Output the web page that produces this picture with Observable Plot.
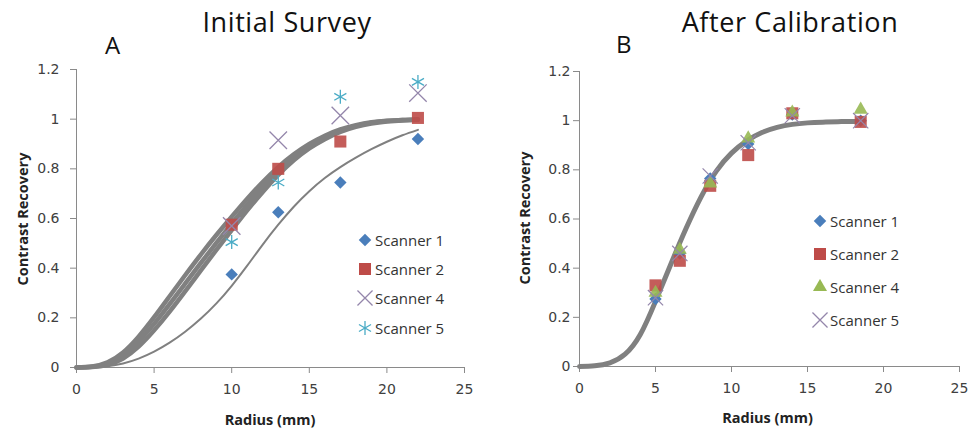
<!DOCTYPE html>
<html><head><meta charset="utf-8">
<script src="https://cdn.jsdelivr.net/npm/d3@7"></script>
<script src="https://cdn.jsdelivr.net/npm/@observablehq/plot@0.6"></script>
<style>
body{margin:0;background:#fff;}
#wrap{position:relative;width:979px;height:429px;overflow:hidden;background:#fff;font-family:"Open Sans",Lato,sans-serif;}
.abs{position:absolute;white-space:nowrap;line-height:1;}
.title{font-size:27px;letter-spacing:0.6px;color:#111;transform:translateX(-50%);}
.letter{font-size:24px;color:#111;}
.ylab{font-size:14.5px;font-weight:bold;color:#222;transform:translate(-50%,-50%) rotate(-90deg);}
.xlab{font-size:14.5px;font-weight:bold;color:#222;transform:translate(-50%,-50%);}
.leg{font-size:15px;color:#333;display:flex;align-items:center;transform:translateY(-50%);}
.leg svg{margin-right:2px;}
.panel{position:absolute;top:0;}
</style></head><body><div id="wrap"></div>
<script>
// ---------- data ----------
const seriesNames = ["Scanner 1", "Scanner 2", "Scanner 4", "Scanner 5"];
const xTicks = [0, 5, 10, 15, 20, 25];
const yTicks = [0, 0.2, 0.4, 0.6, 0.8, 1, 1.2];

// Panel A: Initial Survey
const radiusA = [10, 13, 17, 22];
const initialScanner1 = [0.375, 0.625, 0.745, 0.92];
const initialScanner2 = [0.575, 0.80, 0.91, 1.005];
const initialScanner4 = [0.57, 0.915, 1.015, 1.105];
const initialScanner5 = [0.505, 0.745, 1.09, 1.15];

const fitRadiusA = [0,1,2,3,4,5,6,7,8,9,10,11,12,13,14,15,16,17,18,19,20,21,22];
const fitInitial1 = [0,0.001,0.0055,0.0165,0.036,0.064,0.1,0.144,0.196,0.257,0.329,0.41,0.495,0.575,0.6475,0.71,0.763,0.807,0.845,0.879,0.909,0.935,0.957];
const fitInitial2 = [0,0.003,0.016,0.0485,0.104,0.1755,0.255,0.3375,0.42,0.5005,0.579,0.6555,0.727,0.791,0.846,0.891,0.9265,0.9535,0.973,0.9855,0.9925,0.9965,0.9985];
const fitInitial4 = [0,0.004,0.021,0.0605,0.124,0.2025,0.287,0.3715,0.454,0.5325,0.607,0.6795,0.747,0.807,0.858,0.9,0.9335,0.9585,0.976,0.9875,0.9935,0.997,0.999];
const fitInitial5 = [0,0.002,0.011,0.0365,0.084,0.1495,0.225,0.3065,0.39,0.4725,0.553,0.6325,0.707,0.775,0.834,0.882,0.9195,0.9485,0.969,0.9825,0.9905,0.995,0.9975];

// Panel B: After Calibration
const radiusB = [5, 6.6, 8.6, 11.1, 14.0, 18.5];
const calScanner1 = [0.275, 0.46, 0.765, 0.905, 1.025, 1.0];
const calScanner2 = [0.33, 0.43, 0.735, 0.86, 1.03, 0.995];
const calScanner4 = [0.30, 0.475, 0.745, 0.928, 1.033, 1.045];
const calScanner5 = [0.28, 0.46, 0.775, 0.91, 1.02, 1.0];

const fitRadiusB = [0,1,2,3,4,5,6,7,8,9,10,11,12,13,14,15,16,17,18,18.6];
const fitCalibrated = [0,0.003,0.015,0.05,0.13,0.265,0.415,0.56,0.69,0.795,0.868,0.918,0.952,0.973,0.985,0.991,0.994,0.996,0.997,0.997];

// ---------- styling ----------
const blue = "#4a7ebb", red = "#be4b48", purple = "#9486ab", cyan = "#4bacc6", green = "#98b954", gray = "#808080";

const rows = (xs, ys) => xs.map((x, i) => ({x, y: ys[i]}));

function panel({ml, mr, mt, mb, padY, fits, points}) {
  return Plot.plot({
    width: 489, height: 429,
    marginLeft: ml, marginRight: mr, marginTop: mt, marginBottom: mb,
    x: {domain: [0, 25]},
    y: {domain: [0, 1.2]},
    style: {fontFamily: "DejaVu Sans", fontSize: "14px", background: "transparent", color: "#404040"},
    marks: [
      Plot.axisX({ticks: xTicks, tickSize: 6, tickPadding: 11, stroke: "#8a8a8a", fill: "#404040", label: null, tickFormat: d => String(d)}),
      Plot.axisY({ticks: yTicks, tickSize: 6, tickPadding: padY, stroke: "#8a8a8a", fill: "#404040", label: null, tickFormat: d => String(d)}),
      Plot.ruleX([0], {stroke: "#8a8a8a"}),
      Plot.ruleY([0], {stroke: "#8a8a8a"}),
      ...fits,
      ...points
    ]
  });
}

const line = (xs, ys, w) => Plot.line(rows(xs, ys), {x: "x", y: "y", stroke: gray, strokeWidth: w, curve: "natural"});

const plotA = panel({
  ml: 76, mr: 25, mt: 69, mb: 62, padY: 11,
  fits: [
    line(fitRadiusA, fitInitial1, 2),
    line(fitRadiusA, fitInitial5, 4.5),
    line(fitRadiusA, fitInitial2, 4.5),
    line(fitRadiusA, fitInitial4, 4.5)
  ],
  points: [
    Plot.dot(rows(radiusA, initialScanner1), {x: "x", y: "y", symbol: "diamond2", r: 5.6, fill: blue}),
    Plot.dot(rows(radiusA, initialScanner2), {x: "x", y: "y", symbol: "square", r: 6.8, fill: red, fillOpacity: 0.9}),
    Plot.dot(rows(radiusA, initialScanner4), {x: "x", y: "y", symbol: "times", r: 8, stroke: purple, strokeWidth: 1.3}),
    Plot.dot(rows(radiusA, initialScanner5), {x: "x", y: "y", symbol: "asterisk", r: 6.6, stroke: cyan, strokeWidth: 1.3})
  ]
});

const plotB = panel({
  ml: 89, mr: 20, mt: 71, mb: 63, padY: 3,
  fits: [line(fitRadiusB, fitCalibrated, 5)],
  points: [
    Plot.dot(rows(radiusB, calScanner1), {x: "x", y: "y", symbol: "diamond2", r: 5.6, fill: blue}),
    Plot.dot(rows(radiusB, calScanner2), {x: "x", y: "y", symbol: "square", r: 6.8, fill: red, fillOpacity: 0.9}),
    Plot.dot(rows(radiusB, calScanner4), {x: "x", y: "y", symbol: "triangle", r: 5.2, fill: green, fillOpacity: 0.9}),
    Plot.dot(rows(radiusB, calScanner5), {x: "x", y: "y", symbol: "times", r: 7, stroke: purple, strokeWidth: 1.2})
  ]
});

const wrap = document.getElementById("wrap");
function place(node, left) {
  const d = document.createElement("div");
  d.className = "panel"; d.style.left = left + "px";
  d.appendChild(node); wrap.appendChild(d);
}
place(plotA, 0);
place(plotB, 490);

function label(cls, text, left, top) {
  const d = document.createElement("div");
  d.className = "abs " + cls; d.textContent = text;
  d.style.left = left + "px"; d.style.top = top + "px";
  wrap.appendChild(d);
}
label("title", "Initial Survey", 287, 8);
label("title", "After Calibration", 790, 8);
label("letter", "A", 105, 33);
label("letter", "B", 616, 32);
label("ylab", "Contrast Recovery", 22.5, 219);
label("ylab", "Contrast Recovery", 525, 218);
label("xlab", "Radius (mm)", 270, 420);
label("xlab", "Radius (mm)", 767.5, 417.5);

// legends
const symbolPaths = {
  diamond2: d3.symbol(d3.symbolDiamond2, 100)(),
  square: d3.symbol(d3.symbolSquare, 145)(),
  triangle: d3.symbol(d3.symbolTriangle, 85)(),
  times: d3.symbol(d3.symbolTimes, 150)(),
  asterisk: d3.symbol(d3.symbolAsterisk, 137)()
};
function legend(items, left, tops) {
  items.forEach((it, i) => {
    const d = document.createElement("div");
    d.className = "abs leg";
    d.style.left = left + "px"; d.style.top = tops[i] + "px";
    const filled = it.sym !== "times" && it.sym !== "asterisk";
    d.innerHTML = `<svg width="16" height="16" viewBox="-8 -8 16 16"><path d="${symbolPaths[it.sym]}" fill="${filled ? it.color : "none"}" stroke="${filled ? "none" : it.color}" stroke-width="1.3"></path></svg><span>${seriesNames[i]}</span>`;
    wrap.appendChild(d);
  });
}
legend([{sym: "diamond2", color: blue}, {sym: "square", color: red}, {sym: "times", color: purple}, {sym: "asterisk", color: cyan}], 357, [240, 269, 298, 328]);
legend([{sym: "diamond2", color: blue}, {sym: "square", color: red}, {sym: "triangle", color: green}, {sym: "times", color: purple}], 812, [221, 254, 287, 320]);
</script></body></html>
